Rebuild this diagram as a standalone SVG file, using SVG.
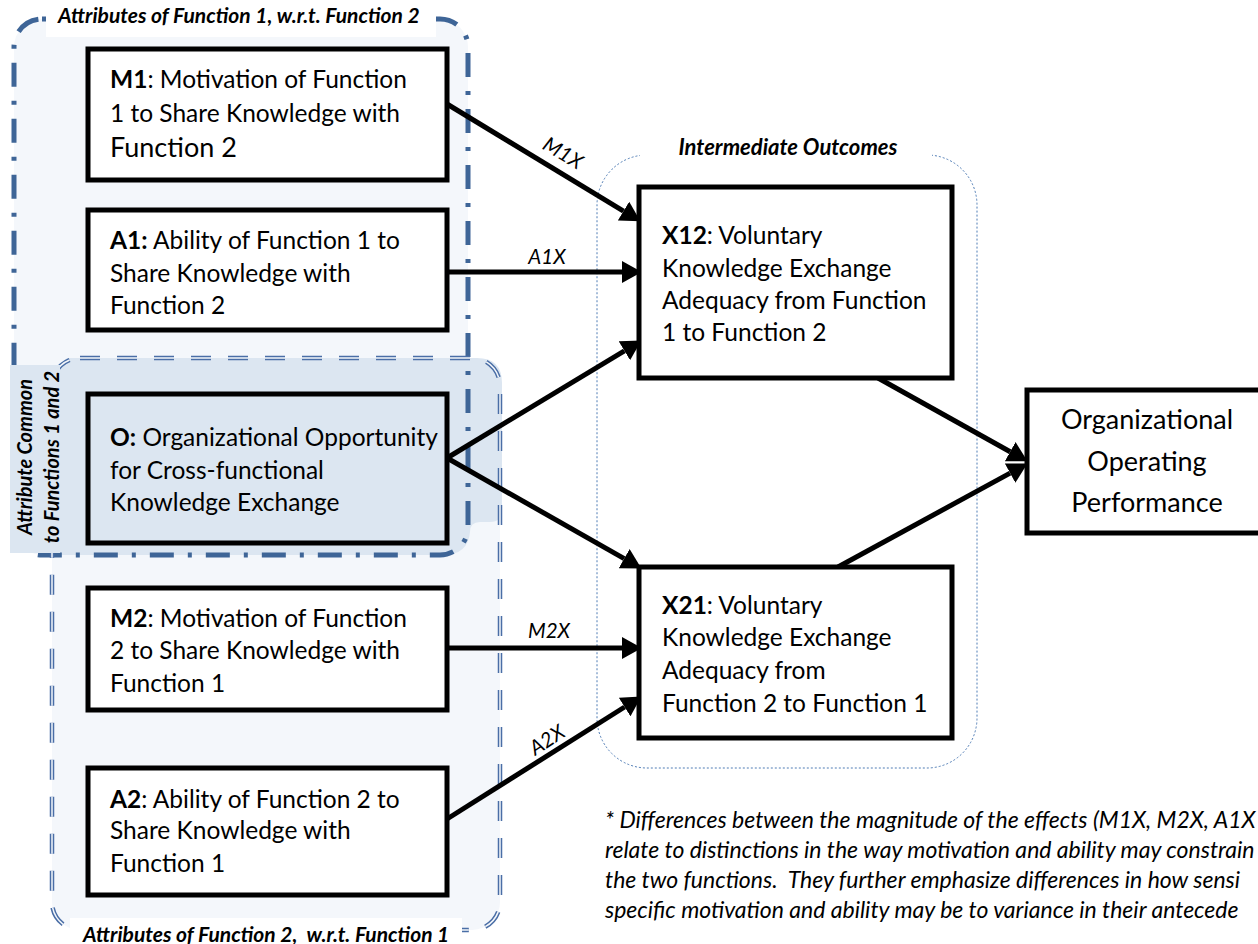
<svg xmlns="http://www.w3.org/2000/svg" width="1258" height="944" viewBox="0 0 1258 944">
<style>
.t{font-family:Lato,"Liberation Sans",sans-serif;font-size:24.5px;fill:#000}
.b{font-weight:bold}
.gl{font-family:Lato,"Liberation Sans",sans-serif;font-size:21px;font-weight:bold;font-style:italic;fill:#000;white-space:pre}
.lbl{font-family:Lato,"Liberation Sans",sans-serif;font-size:20.5px;font-style:italic;fill:#000}
.note{font-family:Lato,"Liberation Sans",sans-serif;font-size:23px;font-style:italic;fill:#000;white-space:pre}
.box{fill:#fff;stroke:#000;stroke-width:5}
.edge{stroke:#000;stroke-width:5;fill:none;marker-end:url(#ah)}
</style>
<defs>
<marker id="ah" markerUnits="userSpaceOnUse" markerWidth="20" markerHeight="22" refX="0" refY="10" orient="auto" viewBox="0 0 18 20">
<path d="M0,0 L18,10 L0,20 Z" fill="#000"/>
</marker>
</defs>
<rect width="1258" height="944" fill="#fff"/>
<g id="group-function1-fill">
<rect x="14" y="19" width="454" height="536" rx="28" fill="#f4f7fb"/>
</g>
<g id="group-function2-fill">
<rect x="52" y="358" width="448" height="572" rx="28" fill="#f4f7fb"/>
</g>
<g id="group-common-fill">
<path d="M67,358 H477 Q502,358 502,383 V510 Q502,522 490,522 H480 Q470,522 470,532 Q468,555 443,555 H60 V365 Z" fill="#dce6f1"/>
</g>
<g id="group-function1-border">
<rect x="14" y="19" width="454" height="536" rx="28" fill="none" stroke="#3e6597" stroke-width="5" stroke-dasharray="24 14 4 14"/>
</g>
<g id="group-function2-border">
<rect x="52" y="358" width="448" height="572" rx="28" fill="none" stroke="#4a6ea6" stroke-width="4.5" stroke-dasharray="20 17"/>
<rect x="52" y="358" width="448" height="572" rx="28" fill="none" stroke="#f4f7fb" stroke-width="1.5" stroke-dasharray="20 17"/>
</g>
<g id="group-common-label">
<rect x="10" y="365" width="50" height="188" fill="#dce6f1"/>
<text class="gl" transform="translate(32,457) rotate(-90)" text-anchor="middle" style="font-size:20px">Attribute Common</text>
<text class="gl" transform="translate(59,457) rotate(-90)" text-anchor="middle" style="font-size:20px">to Functions 1 and 2</text>
</g>
<g id="label-function1">
<rect x="46" y="0" width="390" height="37" fill="#fff"/>
<text class="gl" x="58" y="23">Attributes of Function 1, w.r.t. Function 2</text>
</g>
<g id="label-function2">
<rect x="70" y="918" width="392" height="26" fill="#fff"/>
<text class="gl" x="83" y="942">Attributes of Function 2,  w.r.t. Function 1</text>
</g>
<g id="group-intermediate">
<rect x="597" y="155" width="380" height="613" rx="50" fill="none" stroke="#4f7cb5" stroke-width="1" stroke-dasharray="2 2"/>
<rect x="640" y="128" width="292" height="36" fill="#fff"/>
<text class="gl" x="788" y="155" text-anchor="middle" style="font-size:22px">Intermediate Outcomes</text>
</g>
<g id="connectors">
<line class="edge" x1="447" y1="104" x2="623.5" y2="211.1"/>
<line class="edge" x1="447" y1="272" x2="622" y2="272"/>
<line class="edge" x1="447" y1="458" x2="624.4" y2="350.8"/>
<line class="edge" x1="447" y1="458" x2="624.2" y2="558.6"/>
<line class="edge" x1="447" y1="648" x2="622" y2="648"/>
<line class="edge" x1="447" y1="819" x2="624.6" y2="707"/>
<line class="edge" x1="878" y1="378" x2="1010.2" y2="451.7"/>
<line class="edge" x1="838" y1="567" x2="1010.1" y2="473.1"/>
<text class="lbl" transform="translate(563,153) rotate(31)" text-anchor="middle" y="7">M1X</text>
<text class="lbl" x="547" y="264" text-anchor="middle">A1X</text>
<text class="lbl" x="549" y="638" text-anchor="middle">M2X</text>
<text class="lbl" transform="translate(547,740) rotate(-33)" text-anchor="middle" y="7">A2X</text>
</g>
<g id="node-M1">
<rect class="box" x="88" y="49" width="359" height="131"/>
<text class="t" x="110" y="88"><tspan class="b">M1</tspan>: Motivation of Function</text>
<text class="t" x="110" y="122">1 to Share Knowledge with</text>
<text class="t" x="110" y="157" style="font-size:27px">Function 2</text>
</g>
<g id="node-A1">
<rect class="box" x="88" y="210" width="359" height="120"/>
<text class="t" x="110" y="249"><tspan class="b">A1:</tspan> Ability of Function 1 to</text>
<text class="t" x="110" y="282">Share Knowledge with</text>
<text class="t" x="110" y="314">Function 2</text>
</g>
<g id="node-O">
<rect class="box" x="88" y="394" width="359" height="149" style="fill:#dce6f1"/>
<text class="t" x="110" y="446"><tspan class="b">O:</tspan> Organizational Opportunity</text>
<text class="t" x="110" y="479">for Cross-functional</text>
<text class="t" x="110" y="511">Knowledge Exchange</text>
</g>
<g id="node-M2">
<rect class="box" x="88" y="588" width="359" height="122"/>
<text class="t" x="110" y="627"><tspan class="b">M2</tspan>: Motivation of Function</text>
<text class="t" x="110" y="659">2 to Share Knowledge with</text>
<text class="t" x="110" y="692">Function 1</text>
</g>
<g id="node-A2">
<rect class="box" x="88" y="768" width="359" height="127"/>
<text class="t" x="110" y="808"><tspan class="b">A2</tspan>: Ability of Function 2 to</text>
<text class="t" x="110" y="839">Share Knowledge with</text>
<text class="t" x="110" y="872">Function 1</text>
</g>
<g id="node-X12">
<rect class="box" x="639" y="187" width="313" height="191"/>
<text class="t" x="662" y="244"><tspan class="b">X12</tspan>: Voluntary</text>
<text class="t" x="662" y="277">Knowledge Exchange</text>
<text class="t" x="662" y="309">Adequacy from Function</text>
<text class="t" x="662" y="341">1 to Function 2</text>
</g>
<g id="node-X21">
<rect class="box" x="639" y="567" width="313" height="171"/>
<text class="t" x="662" y="614"><tspan class="b">X21</tspan>: Voluntary</text>
<text class="t" x="662" y="646">Knowledge Exchange</text>
<text class="t" x="662" y="679">Adequacy from</text>
<text class="t" x="662" y="712">Function 2 to Function 1</text>
</g>
<g id="node-Perf">
<rect class="box" x="1027" y="390" width="240" height="143"/>
<text class="t" x="1147" y="429" text-anchor="middle" style="font-size:27px">Organizational</text>
<text class="t" x="1147" y="471" text-anchor="middle" style="font-size:27px">Operating</text>
<text class="t" x="1147" y="512" text-anchor="middle" style="font-size:27px">Performance</text>
</g>
<g id="footnote">
<text class="note" x="605" y="828">* Differences between the magnitude of the effects (M1X, M2X, A1X</text>
<text class="note" x="605" y="858">relate to distinctions in the way motivation and ability may constrain</text>
<text class="note" x="605" y="888">the two functions.  They further emphasize differences in how sensi</text>
<text class="note" x="605" y="918">specific motivation and ability may be to variance in their antecede</text>
</g>
</svg>
